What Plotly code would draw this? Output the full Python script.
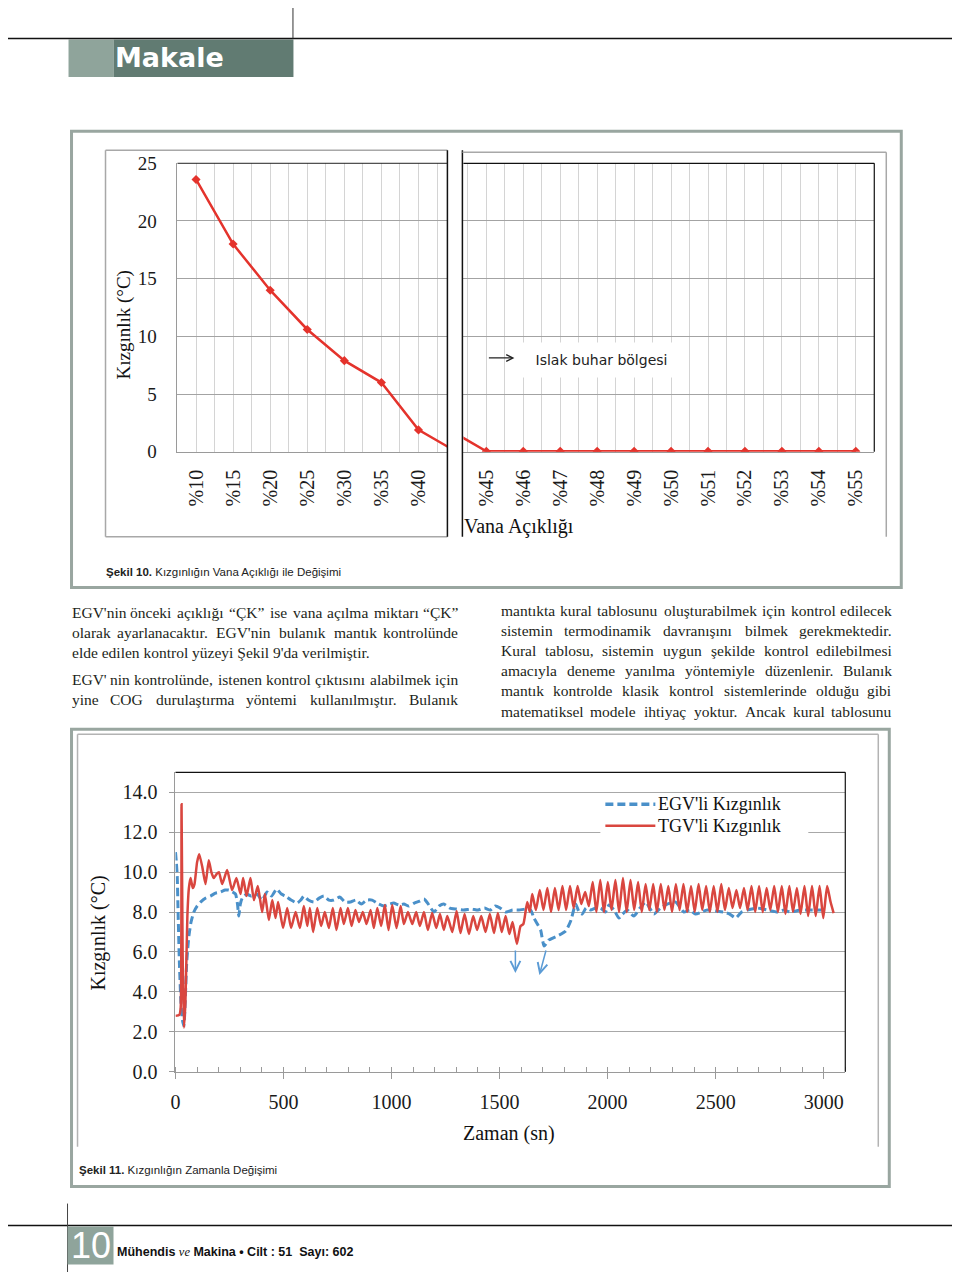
import plotly.graph_objects as go

# The page keeps the browser's default 8px body margin, so the figure is sized to fill the
# 960x1280 window with that margin around it. A small calibration maps reference pixel
# positions to figure positions.
OFF = 8
FW, FH = 960 - 2 * OFF, 1280 - 2 * OFF
CAL_XA, CAL_XB = 4.5, 0.995
CAL_YA, CAL_YB = 9.6, 0.985
def fx(x): return ((x - CAL_XA) / CAL_XB - OFF) / FW
def fy(y): return 1 - ((y - CAL_YA) / CAL_YB - OFF) / FH

SERIF = "Liberation Serif, Times New Roman, serif"
SANS = "Liberation Sans, Arial, sans-serif"
TXT = "#231f20"

# ---------------- Figure 10 data ----------------
valve_left = ["%10", "%15", "%20", "%25", "%30", "%35", "%40"]
superheat_left = [23.6, 18.0, 14.0, 10.6, 7.9, 6.0, 1.9]
valve_right = ["%45", "%46", "%47", "%48", "%49", "%50", "%51", "%52", "%53", "%54", "%55"]
superheat_right = [0.05, 0.05, 0.05, 0.05, 0.05, 0.05, 0.05, 0.05, 0.05, 0.05, 0.05]
yticks_10 = [0, 5, 10, 15, 20, 25]

# ---------------- Figure 11 data ----------------
time_egv = [0, 4, 8, 12, 18, 25, 32, 39, 45, 52, 62, 72, 85, 100, 116, 140, 162, 185, 208, 230,
            247, 265, 278, 287, 293, 300, 309, 330, 350, 378, 400, 424, 445, 468, 490, 509, 535, 563, 580, 594,
            615, 640, 665, 687, 710, 733, 760, 785, 810, 835, 860, 885, 910, 940, 964, 990, 1010, 1035, 1057, 1080,
            1105, 1130, 1150, 1170, 1196, 1220, 1242, 1270, 1300, 1334, 1370, 1400, 1430, 1457, 1480, 1503, 1530, 1560, 1590, 1620,
            1644, 1659, 1675, 1690, 1706, 1728, 1767, 1806, 1829, 1852, 1868, 1883, 1900, 1921, 1945, 1968, 1990, 2006, 2030, 2052,
            2070, 2091, 2121, 2150, 2176, 2195, 2214, 2245, 2276, 2315, 2353, 2380, 2407, 2435, 2461, 2500, 2538, 2565, 2593, 2620,
            2647, 2693, 2740, 2786, 2815, 2847, 2890, 2940, 2990]
superheat_egv = [11.0, 10.5, 9.8, 8.0, 5.5, 3.5, 2.6, 2.3, 3.5, 5.5, 6.8, 7.5, 8.0, 8.3, 8.5, 8.7, 8.8, 8.95, 9.0, 9.1,
                 9.1, 9.0, 8.9, 8.4, 7.8, 8.4, 8.7, 8.9, 8.8, 8.9, 8.6, 9.0, 8.8, 9.15, 8.9, 8.8, 8.6, 8.45, 8.6, 8.8,
                 8.6, 8.5, 8.7, 8.8, 8.6, 8.6, 8.75, 8.5, 8.5, 8.6, 8.4, 8.6, 8.6, 8.4, 8.3, 8.4, 8.45, 8.35, 8.4, 8.3,
                 8.45, 8.55, 8.65, 8.4, 8.0, 8.3, 8.4, 8.2, 8.15, 8.1, 8.15, 8.1, 8.2, 8.1, 8.3, 8.2, 8.0, 8.1, 8.1, 8.15,
                 8.1, 7.7, 7.4, 7.1, 6.3, 6.6, 6.8, 7.05, 7.55, 8.4, 8.0, 7.9, 8.2, 8.1, 8.2, 8.2, 8.0, 8.35, 8.1, 7.7,
                 7.9, 8.1, 7.8, 8.2, 8.5, 8.2, 7.9, 8.2, 8.4, 8.5, 8.0, 8.1, 7.9, 8.0, 8.1, 8.05, 8.0, 7.9, 7.7, 8.0,
                 8.1, 8.2, 8.1, 8.0, 8.1, 8.0, 8.1, 8.1, 8.1]

time_tgv = [0, 18, 24, 28, 33, 39, 46, 55, 62, 70, 80, 88, 100, 110, 125, 139, 154, 166, 177, 190,
            201, 216, 239, 262, 282, 301, 313, 329, 347, 363, 381, 401, 414, 432, 448, 463, 475, 498, 517, 535,
            556, 576, 594, 610, 622, 637, 656, 674, 691, 710, 728, 745, 764, 779, 798, 815, 833, 849, 867, 884,
            903, 918, 934, 952, 969, 986, 1003, 1023, 1042, 1057, 1076, 1096, 1114, 1131, 1150, 1168, 1188, 1207, 1224, 1242,
            1258, 1281, 1301, 1319, 1338, 1358, 1378, 1396, 1415, 1435, 1455, 1474, 1492, 1510, 1528, 1545, 1560, 1580, 1597, 1610,
            1628, 1640, 1651, 1668, 1686, 1703, 1721, 1738, 1756, 1773, 1791, 1808, 1826, 1843, 1861, 1878, 1896, 1913, 1931, 1948,
            1966, 1983, 2001, 2018, 2036, 2053, 2071, 2088, 2106, 2123, 2141, 2158, 2176, 2193, 2211, 2228, 2246, 2263, 2281, 2298,
            2316, 2333, 2351, 2368, 2386, 2403, 2421, 2438, 2456, 2473, 2491, 2508, 2526, 2543, 2561, 2578, 2596, 2613, 2631, 2648,
            2666, 2683, 2701, 2718, 2736, 2753, 2771, 2788, 2806, 2823, 2841, 2858, 2876, 2893, 2911, 2928, 2946, 2963, 2981, 2998,
            3016, 3032, 3046]
superheat_tgv = [2.8, 2.85, 3.2, 13.4, 6.0, 2.2, 3.5, 7.8, 9.2, 9.7, 9.2, 9.4, 10.5, 10.9, 10.2, 9.4, 10.6, 10.0, 9.7, 9.9,
                 10.0, 9.4, 10.1, 9.1, 9.7, 8.9, 9.7, 8.8, 9.7, 8.6, 9.3, 8.0, 8.9, 7.6, 8.6, 7.7, 8.5, 7.2, 8.2, 7.2,
                 8.0, 7.2, 8.3, 7.3, 8.2, 7.0, 8.2, 7.3, 8.0, 7.2, 8.2, 7.1, 8.2, 7.4, 8.2, 7.3, 8.1, 7.5, 8.0, 7.4,
                 8.1, 7.2, 8.2, 7.3, 8.35, 7.1, 8.35, 7.2, 8.3, 7.4, 8.0, 7.4, 8.0, 7.3, 8.0, 7.1, 7.95, 7.2, 7.9, 7.1,
                 7.8, 7.0, 8.05, 6.95, 7.9, 6.9, 7.8, 7.1, 7.8, 7.0, 7.9, 6.95, 7.95, 7.0, 7.8, 6.9, 7.5, 6.4, 7.3, 7.4,
                 8.5, 8.0, 8.9, 8.1, 9.1, 8.1, 9.2, 8.0, 9.2, 8.1, 9.3, 8.1, 9.3, 8.2, 9.3, 8.4, 9.0, 8.3, 9.5, 8.0,
                 9.6, 8.0, 9.5, 8.1, 9.6, 8.0, 9.7, 8.0, 9.6, 8.1, 9.5, 8.0, 9.4, 8.1, 9.4, 8.0, 9.4, 8.1, 9.3, 8.0,
                 9.4, 8.1, 9.4, 8.0, 9.3, 8.0, 9.4, 8.1, 9.3, 8.0, 9.3, 8.0, 9.4, 8.1, 9.2, 8.2, 9.1, 8.2, 9.2, 8.1,
                 9.3, 8.0, 9.3, 8.0, 9.2, 8.1, 9.3, 8.0, 9.3, 7.9, 9.3, 8.0, 9.2, 7.9, 9.3, 7.8, 9.3, 7.8, 9.3, 7.7,
                 9.3, 8.5, 7.95]
xticks_11 = [0, 500, 1000, 1500, 2000, 2500, 3000]
yticks_11 = [0, 2, 4, 6, 8, 10, 12, 14]
series_names = ["EGV'li Kızgınlık", "TGV'li Kızgınlık"]

RED10 = "#e4332c"
RED11 = "#d9463f"
BLUE11 = "#4a90c9"
BLUE_DASH = "8px,4px"

fig = go.Figure()

# Figure 10: same series drawn in the two broken-axis panels
n_left = len(valve_left)
all_labels = valve_left + valve_right
all_vals = superheat_left + superheat_right
idx = list(range(len(all_labels)))
for xa, ya in (("x", "y"), ("x2", "y2")):
    fig.add_trace(go.Scatter(x=idx, y=all_vals, xaxis=xa, yaxis=ya, mode="lines+markers",
                             line=dict(color=RED10, width=2.5),
                             marker=dict(symbol="diamond", size=7, color=RED10),
                             showlegend=False, cliponaxis=True, hoverinfo="skip"))

# Figure 11
fig.add_trace(go.Scatter(x=time_egv, y=superheat_egv, xaxis="x3", yaxis="y3", mode="lines",
                         name=series_names[0], showlegend=False,
                         line=dict(color=BLUE11, width=3, dash=BLUE_DASH, shape="spline", smoothing=0.5)))
fig.add_trace(go.Scatter(x=time_tgv, y=superheat_tgv, xaxis="x3", yaxis="y3", mode="lines",
                         name=series_names[1], showlegend=False,
                         line=dict(color=RED11, width=2.5, shape="spline", smoothing=0.5)))

left_tv, left_tt = [], []
for i, lab in enumerate(valve_left):
    left_tv += [i, i + 0.5]
    left_tt += [lab, ""]
right_tv, right_tt = [], []
for j, lab in enumerate(valve_right):
    k = n_left + j
    right_tv += [k - 0.5, k]
    right_tt += ["", lab]

tick10 = dict(family=SERIF, size=20, color="#1a1a1a")
ytick10 = dict(family=SERIF, size=19, color="#1a1a1a")
xcommon10 = dict(tickmode="array", tickangle=-90, showgrid=True, gridcolor="#d4d4d4", gridwidth=1,
                 showline=True, linecolor="#9a9a9a", linewidth=1, ticks="", zeroline=False,
                 tickfont=tick10, ticklabelstandoff=9, fixedrange=True)
ycommon10 = dict(range=[0, 25], tickmode="array", tickvals=yticks_10, showgrid=True, gridcolor="#a3a3a3",
                 gridwidth=1, zeroline=False, ticks="", tickfont=ytick10, fixedrange=True)

fig.update_layout(
    width=FW, height=FH, margin=dict(l=0, r=0, t=0, b=0), autosize=False,
    paper_bgcolor="white", plot_bgcolor="white", hovermode=False, showlegend=False,
    xaxis=dict(domain=[fx(177), fx(447)], range=[-0.5, n_left - 0.22], tickvals=left_tv, ticktext=left_tt,
               anchor="y", **xcommon10),
    yaxis=dict(domain=[fy(452), fy(163)], anchor="x", showline=True, linecolor="#9a9a9a",
               showticklabels=True, ticklabelstandoff=16, **ycommon10),
    xaxis2=dict(domain=[fx(463), fx(874)], range=[n_left - 0.62, len(all_labels) - 0.5], tickvals=right_tv,
                ticktext=right_tt, anchor="y2", **xcommon10),
    yaxis2=dict(domain=[fy(452), fy(163)], anchor="x2", showline=False, showticklabels=False, **ycommon10),
    xaxis3=dict(domain=[fx(175), fx(845)], range=[0, 3100], anchor="y3", tickmode="array", tickvals=xticks_11,
                showgrid=False, zeroline=False, showline=True, linecolor="#9a9a9a", linewidth=1,
                ticks="outside", ticklen=6, tickcolor="#9a9a9a",
                minor=dict(dtick=100, tick0=0, ticks="inside", ticklen=5, tickcolor="#9a9a9a", showgrid=False),
                tickfont=dict(family=SERIF, size=20, color="#1a1a1a"), ticklabelstandoff=6, fixedrange=True),
    yaxis3=dict(domain=[fy(1073), fy(773)], range=[0, 15], anchor="x3", tickmode="array", tickvals=yticks_11,
                tickformat=".1f", showgrid=True, gridcolor="#a8a8a8", gridwidth=1, zeroline=False,
                showline=True, linecolor="#9a9a9a", ticks="outside", ticklen=5, tickcolor="#9a9a9a",
                tickfont=dict(family=SERIF, size=20, color="#1a1a1a"), ticklabelstandoff=8, fixedrange=True),
)

# ---------------- shapes ----------------
shapes = []
def line(x0, y0, x1, y1, color="black", width=1, dash="solid"):
    shapes.append(dict(type="line", xref="paper", yref="paper", x0=fx(x0), y0=fy(y0), x1=fx(x1), y1=fy(y1),
                       line=dict(color=color, width=width, dash=dash)))
def rect(x0, y0, x1, y1, fill=None, color=None, width=0):
    d = dict(type="rect", xref="paper", yref="paper", x0=fx(x0), y0=fy(y0), x1=fx(x1), y1=fy(y1),
             line=dict(color=color or "rgba(0,0,0,0)", width=width))
    if fill:
        d["fillcolor"] = fill
    shapes.append(d)
def dom(ax, x0, y0, x1, y1, color="black", width=1):
    shapes.append(dict(type="line", xref=ax[0] + " domain", yref=ax[1] + " domain", x0=x0, y0=y0, x1=x1, y1=y1,
                       line=dict(color=color, width=width)))

FRAME = "#99a6a0"
# header
rect(68, 39, 113, 76.5, fill="#8fa49b")
rect(113, 39, 293, 76.5, fill="#617b72")
line(0, 38, 960, 38, "#111111", 1.5)
line(292.5, 3, 292.5, 38, "#333333", 1)
# figure 10 frames
rect(71, 131, 901, 588, color=FRAME, width=3)
line(105, 150, 447, 150, "#a8a8a8", 1.5)
line(105, 150, 105, 537, "#a8a8a8", 1.5)
line(105, 537, 447, 537, "#a8a8a8", 1.5)
line(447, 150, 447, 537, "#111111", 1.5)
line(462, 150, 462, 537, "#111111", 1.5)
line(462, 152, 886, 152, "#a8a8a8", 1.5)
line(886, 152, 886, 537, "#a8a8a8", 1.5)
dom(("x", "y"), 0, 1, 1, 1, "#222222", 1)
dom(("x2", "y2"), 0, 1, 1, 1, "#111111", 1.2)
dom(("x2", "y2"), 1, 0, 1, 1, "#111111", 1.2)
# figure 11 frames
rect(71, 730, 889, 1188, color=FRAME, width=3)
line(77, 735, 878, 735, "#b3b3b3", 1.5)
line(77, 735, 77, 1148, "#b3b3b3", 1.5)
line(878, 735, 878, 1148, "#b3b3b3", 1.5)
dom(("x3", "y3"), 0, 1, 1, 1, "#111111", 1.2)
dom(("x3", "y3"), 1, 0, 1, 1, "#111111", 1.2)
# figure 11 legend box and samples
rect(600, 794, 808, 840, fill="white")
line(605, 805, 655, 805, BLUE11, 3.5, BLUE_DASH)
line(605, 826.5, 655, 826.5, RED11, 2.5)
# footer
line(0, 1227, 960, 1227, "#111111", 1.5)
line(67, 1205, 67, 1280, "#444444", 1)
rect(67, 1228, 113, 1266, fill="#8fa49b")
fig.update_layout(shapes=shapes)

# ---------------- annotations ----------------
ann = []
def text(x, y, s, size, family=SERIF, color=TXT, xanchor="left", angle=0, **kw):
    ann.append(dict(x=fx(x), y=fy(y), xref="paper", yref="paper", text=s, showarrow=False, xanchor=xanchor,
                    yanchor="middle", textangle=angle, borderpad=0,
                    font=dict(family=family, size=size, color=color), **kw))

text(113, 57.5, "<b>Makale</b>", 27, family="DejaVu Sans, Liberation Sans, sans-serif", color="white")

# figure 10 labels
text(124, 325, "Kızgınlık (°C)", 19, color="#111111", xanchor="center", angle=-90)
text(519, 527, "Vana Açıklığı", 20, color="#111111", xanchor="center")
ann.append(dict(x=fx(514), y=fy(358), xref="paper", yref="paper", text="", showarrow=True, ax=-27, ay=0,
                arrowhead=5, arrowsize=1.1, arrowwidth=1.2, arrowcolor="#222222"))
ann.append(dict(x=fx(601.5), y=fy(360), xref="paper", yref="paper", text="Islak buhar bölgesi", showarrow=False,
                xanchor="center", yanchor="middle", width=165, height=34, bgcolor="white", borderpad=0,
                font=dict(family="DejaVu Sans, Verdana, sans-serif", size=14, color="#222222")))
text(104, 572, "<b>Şekil 10.</b> Kızgınlığın Vana Açıklığı ile Değişimi", 11.5, family=SANS, color="#222222")

# figure 11 labels
text(98, 934, "Kızgınlık (°C)", 20, color="#111111", xanchor="center", angle=-90)
text(509, 1135, "Zaman (sn)", 20, color="#111111", xanchor="center")
text(657, 805, series_names[0], 18, color="#111111")
text(657, 826.5, series_names[1], 18, color="#111111")
ann.append(dict(x=fx(515), y=fy(974), xref="paper", yref="paper", text="", showarrow=True, ax=0, ay=-24,
                arrowhead=5, arrowsize=1.3, arrowwidth=1.5, arrowcolor="#5b9bd5"))
ann.append(dict(x=fx(539), y=fy(976), xref="paper", yref="paper", text="", showarrow=True, ax=7, ay=-26,
                arrowhead=5, arrowsize=1.3, arrowwidth=1.5, arrowcolor="#5b9bd5"))
text(77, 1171, "<b>Şekil 11.</b> Kızgınlığın Zamanla Değişimi", 11.5, family=SANS, color="#222222")

# footer
text(90, 1247, "10", 36, family=SANS, color="white", xanchor="center")
text(115, 1254, "<b>Mühendis</b> <i><span style='font-family:Liberation Serif'>ve</span></i> "
               "<b>Makina • Cilt : 51  Sayı: 602</b>", 12.5, family=SANS, color="#111111")

# ---------------- body text (justified) ----------------
TIMES = {}
TIMES.update(zip(" !\"#$%&'()*+,-./0123456789:;<=>?",
                 [250, 333, 408, 500, 500, 833, 778, 180, 333, 333, 500, 564, 250, 333, 250, 278]
                 + [500] * 10 + [278, 278, 564, 564, 564, 444]))
TIMES.update(zip("ABCDEFGHIJKLMNOPQRSTUVWXYZ",
                 [722, 667, 667, 722, 611, 556, 722, 722, 333, 389, 722, 611, 889, 722, 722, 556, 722, 667,
                  556, 611, 722, 722, 944, 722, 722, 611]))
TIMES.update(zip("abcdefghijklmnopqrstuvwxyz",
                 [444, 500, 444, 500, 444, 333, 500, 500, 278, 278, 500, 278, 778, 500, 500, 500, 500, 333,
                  389, 278, 500, 500, 722, 500, 500, 444]))
TIMES.update({"ı": 278, "ş": 389, "ç": 444, "ğ": 500, "ü": 500, "ö": 500, "Ç": 667, "Ş": 556, "İ": 333,
              "Ü": 722, "Ö": 722, "“": 444, "”": 444, "’": 333})
BODY = 15.5
def tw(s):
    return sum(TIMES.get(c, 500) for c in s) / 1000 * BODY

def body_line(s, x_left, x_right, y, justify=True):
    words = s.split(" ")
    if not justify or len(words) < 2:
        text(x_left, y, s, BODY)
        return
    widths = [tw(w) for w in words]
    gap = (x_right - x_left - sum(widths)) / (len(words) - 1)
    x = x_left
    for i, w in enumerate(words):
        if i == 0:
            text(x_left, y, w, BODY)
        elif i == len(words) - 1:
            text(x_right, y, w, BODY, xanchor="right")
        else:
            text(x + widths[i] / 2, y, w, BODY, xanchor="center")
        x += widths[i] + gap

left_col = [
    ("EGV'nin önceki açıklığı “ÇK” ise vana açılma miktarı “ÇK”", True, 613),
    ("olarak ayarlanacaktır. EGV'nin bulanık mantık kontrolünde", True, 633),
    ("elde edilen kontrol yüzeyi Şekil 9'da verilmiştir.", False, 653),
    ("EGV' nin kontrolünde, istenen kontrol çıktısını alabilmek için", True, 680),
    ("yine COG durulaştırma yöntemi kullanılmıştır. Bulanık", True, 700),
]
right_col = [
    ("mantıkta kural tablosunu oluşturabilmek için kontrol edilecek", True, 611),
    ("sistemin termodinamik davranışını bilmek gerekmektedir.", True, 631),
    ("Kural tablosu, sistemin uygun şekilde kontrol edilebilmesi", True, 651.5),
    ("amacıyla deneme yanılma yöntemiyle düzenlenir. Bulanık", True, 671.5),
    ("mantık kontrolde klasik kontrol sistemlerinde olduğu gibi", True, 691.5),
    ("matematiksel modele ihtiyaç yoktur. Ancak kural tablosunu", True, 712.5),
]
for s, j, y in left_col:
    body_line(s, 70, 459, y, j)
for s, j, y in right_col:
    body_line(s, 500, 893, y, j)

fig.update_layout(annotations=ann)

fig.write_html("out.html", config={"displayModeBar": False})
